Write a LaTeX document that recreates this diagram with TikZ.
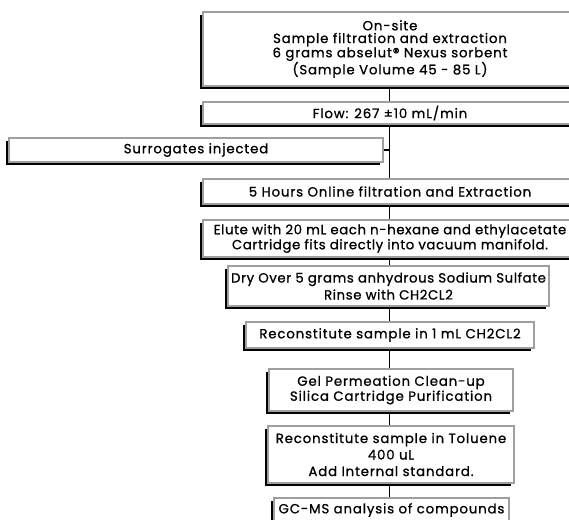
\documentclass[tikz,border=0pt]{standalone}
\usepackage{fontspec}
\setmainfont{Poppins}[LetterSpace=6.5, FakeBold=0.9]
\usetikzlibrary{shadows}
\tikzset{
  box/.style={draw=gray!75, line width=2pt, fill=white, anchor=north west,
    inner sep=0pt, align=center,
    general shadow={shadow xshift=-2.6pt, shadow yshift=-2.6pt, fill=black}},
  conn/.style={line width=1.4pt, black}
}
\newcommand{\fs}[1]{\fontsize{13.3}{#1}\selectfont}
\begin{document}
\begin{tikzpicture}[x=1pt,y=1pt]
\useasboundingbox (0,0) rectangle (569,-519);
\fill[white] (0,0) rectangle (569,-519);
\clip (0,0) rectangle (569,-519);
\node[box, font=\fs{12.7}, minimum width=374pt, minimum height=74pt] (b1) at (202,-11)
  {On-site\\Sample filtration and extraction\\6 grams abselut® Nexus sorbent\\(Sample Volume 45 - 85 L)};
\node[box, font=\fs{15}, minimum width=374pt, minimum height=22pt] (b2) at (202,-101)
  {Flow: 267 ±10 mL/min};
\node[box, font=\fs{15}, minimum width=374pt, minimum height=24pt] (sur) at (8,-137)
  {Surrogates injected};
\node[box, font=\fs{15}, minimum width=374pt, minimum height=25pt] (b3) at (202,-178)
  {5 Hours Online filtration and Extraction};
\node[box, font=\fs{15}\addfontfeatures{LetterSpace=4.5}, minimum width=374pt, minimum height=37pt] (b4) at (202,-219)
  {Elute with 20 mL each n-hexane and ethylacetate\\Cartridge fits directly into vacuum manifold.};
\node[box, font=\fs{17}\addfontfeatures{LetterSpace=4.5}, minimum width=321pt, minimum height=40pt] (b5) at (227,-265)
  {Dry Over 5 grams anhydrous Sodium Sulfate\\Rinse with CH2CL2};
\node[box, font=\fs{15}, minimum width=288pt, minimum height=26pt] (b6) at (245,-321)
  {Reconstitute sample in 1 mL CH2CL2};
\node[box, font=\fs{15}, minimum width=244pt, minimum height=42pt] (b7) at (268,-368)
  {Gel Permeation Clean-up\\Silica Cartridge Purification};
\node[box, font=\fs{16.5}, minimum width=246pt, minimum height=57pt] (b8) at (267,-425)
  {Reconstitute sample in Toluene\\400 uL\\Add Internal standard.};
\node[box, font=\fs{15}, minimum width=235pt, minimum height=24pt] (b9) at (273,-497)
  {GC-MS analysis of compounds};
\draw[conn] (b1.south -| 389.5,0) -- (b2.north -| 389.5,0);
\draw[conn] (b2.south -| 389.5,0) -- (b3.north -| 389.5,0);
\coordinate (j) at (sur.east -| 389.5,0);
\draw[conn] (sur.east) -- (j);
\draw[conn] (b3.south -| 389.5,0) -- (b4.north -| 389.5,0);
\draw[conn] (b4.south -| 389.5,0) -- (b5.north -| 389.5,0);
\draw[conn] (b5.south -| 389.5,0) -- (b6.north -| 389.5,0);
\draw[conn] (b6.south -| 389.5,0) -- (b7.north -| 389.5,0);
\draw[conn] (b7.south -| 389.5,0) -- (b8.north -| 389.5,0);
\draw[conn] (b8.south -| 389.5,0) -- (b9.north -| 389.5,0);
\end{tikzpicture}
\end{document}
